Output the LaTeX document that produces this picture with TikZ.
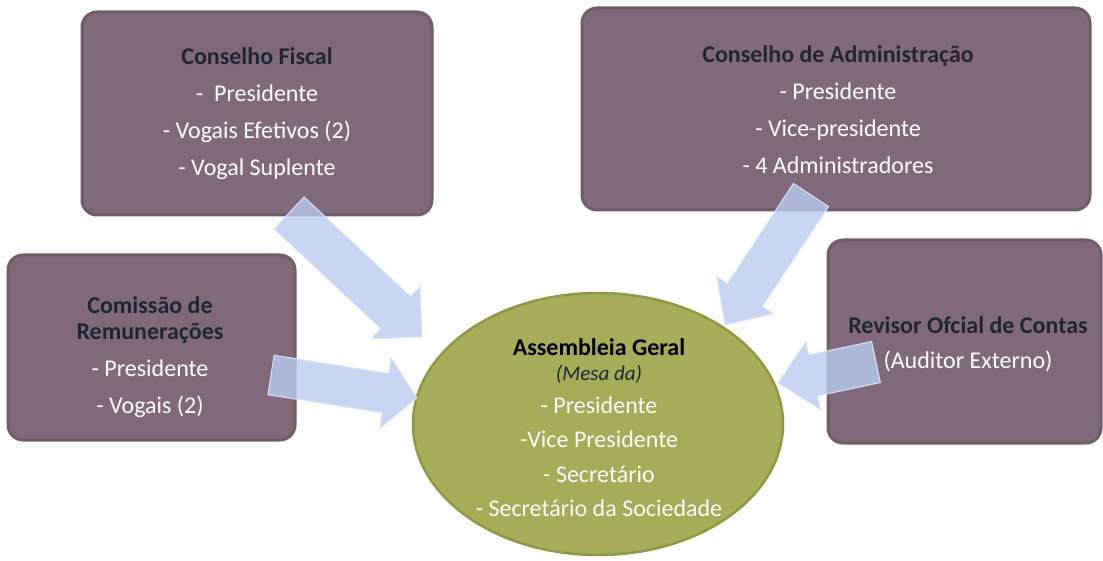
\documentclass[tikz,border=0pt]{standalone}
\usepackage{fontspec}
\setmainfont{Carlito}
\usetikzlibrary{calc,shapes.geometric}
\definecolor{boxfill}{RGB}{128,106,122}
\definecolor{boxedge}{RGB}{114,92,108}
\definecolor{headc}{RGB}{30,38,52}
\definecolor{arrowfill}{RGB}{186,204,240}
\definecolor{arrowedge}{RGB}{224,232,249}
\definecolor{ellfill}{RGB}{166,172,88}
\definecolor{elledge}{RGB}{146,151,66}
\newcommand{\blockarrow}[5]{%
  \coordinate (ba-b) at ($(#2)!#5!(#1)$);
  \path[arrowstyle] ($(#1)!#3!90:(#2)$) -- ($(ba-b)!#3!90:(#2)$) -- ($(ba-b)!#4!90:(#2)$) -- (#2)
    -- ($(ba-b)!#4!-90:(#2)$) -- ($(ba-b)!#3!-90:(#2)$) -- ($(#1)!#3!-90:(#2)$) -- cycle;}
\tikzset{
  boxstyle/.style={rectangle, rounded corners=15pt, fill=boxfill, draw=boxedge, line width=3pt, inner sep=0pt},
  arrowstyle/.style={fill=arrowfill, fill opacity=0.8, draw=arrowedge, line width=1pt, draw opacity=0.9, line join=miter},
  txt/.style={align=center, text=white, font=\fontsize{24}{37}\selectfont, inner sep=0pt}
}
\begin{document}
\begin{tikzpicture}[x=1pt, y=-1pt]
\useasboundingbox (0,0) rectangle (1103,561);
% boxes
\node[boxstyle, minimum width=350pt, minimum height=203pt] (fiscal) at (257,113.5) {};
\node[boxstyle, minimum width=508pt, minimum height=202pt] (admin) at (836,109) {};
\node[boxstyle, minimum width=287pt, minimum height=185pt] (comissao) at (151.5,347.5) {};
\node[boxstyle, minimum width=273pt, minimum height=203pt] (revisor) at (964.5,341.5) {};
% ellipse
\node[ellipse, minimum width=370pt, minimum height=262pt, fill=ellfill, draw=elledge, line width=2.5pt, inner sep=0pt] (ag) at (598,424) {};
% arrow end points
\coordinate (a1s) at (289,213); \coordinate (a1t) at (422,337);
\coordinate (a2s) at (811,195); \coordinate (a2t) at (725,325);
\coordinate (a3s) at (271,375); \coordinate (a3t) at (417,398);
\coordinate (a4s) at (876,362); \coordinate (a4t) at (778,383);
\blockarrow{a1s}{a1t}{22pt}{36pt}{36pt}
\blockarrow{a2s}{a2t}{21pt}{34pt}{36pt}
\blockarrow{a3s}{a3t}{20pt}{36pt}{32pt}
\blockarrow{a4s}{a4t}{21pt}{35pt}{36pt}
% texts
\node[txt] (fiscal-t) at (257,114) {{\bfseries\color{headc}Conselho Fiscal}\\- \ Presidente\\- Vogais Efetivos (2)\\- Vogal Suplente};
\node[txt] (admin-t) at (838,110) {{\bfseries\color{headc}Conselho de Administração}\\- Presidente\\- Vice-presidente\\- 4 Administradores};
\node[txt] (comissao-t) at (150,357) {{\bfseries\color{headc}Comissão de}\\[-11pt]{\bfseries\color{headc}Remunerações}\\- Presidente\\- Vogais (2)};
\node[txt] (revisor-t) at (968,344.5) {{\bfseries\color{headc}Revisor Ofcial de Contas}\\[-2pt](Auditor Externo)};
\node[txt, font=\fontsize{24}{34.5}\selectfont] (ag-t) at (599,427.5) {{\bfseries\color{black}Assembleia Geral}\\[-9.5pt]{\fontsize{21}{24}\selectfont\itshape\color{headc}(Mesa da)}\\[-1.5pt]- Presidente\\-Vice Presidente\\- Secretário\\- Secretário da Sociedade};
\end{tikzpicture}
\end{document}
